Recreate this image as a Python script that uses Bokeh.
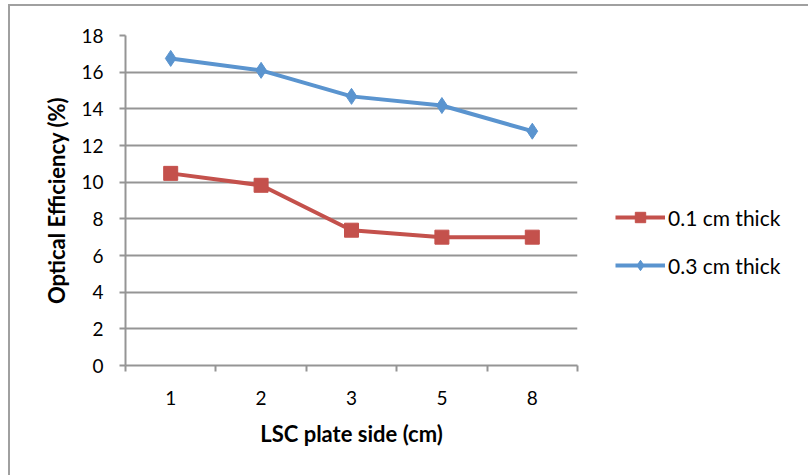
from bokeh.plotting import figure
from bokeh.models import Range1d, FixedTicker, Legend, LegendItem
from bokeh.embed import file_html
from bokeh.resources import INLINE

categories = ["1", "2", "3", "5", "8"]
thin_values = [10.48, 9.83, 7.38, 7.0, 7.0]
thick_values = [16.75, 16.1, 14.68, 14.18, 12.78]
y_ticks = [0, 2, 4, 6, 8, 10, 12, 14, 16, 18]

FONT = "Lato"
GRAY = "#959595"
RED = "#C4514C"
BLUE = "#5A94CF"

xs = [i + 1 for i in range(len(categories))]

frame_css = {
    "background-color": "white",
    "background-image": "linear-gradient(#a0a0a0, #a0a0a0), linear-gradient(#a0a0a0, #a0a0a0)",
    "background-size": "2px 100%, 100% 2px",
    "background-position": "8px 4px, 8px 4px",
    "background-repeat": "no-repeat",
}

p = figure(frame_width=452, frame_height=330, output_backend="svg", toolbar_location=None,
           x_range=Range1d(0.5, len(categories) + 0.5), y_range=Range1d(0, 18),
           min_border_left=125, min_border_right=231, min_border_top=35,
           min_border_bottom=110, styles=frame_css)
p.outline_line_color = None
p.background_fill_color = "white"
p.border_fill_color = None

# grid
p.xgrid.grid_line_color = None
p.ygrid.grid_line_color = GRAY
p.ygrid.grid_line_width = 2
p.ygrid.ticker = FixedTicker(ticks=y_ticks)

# y axis
p.yaxis.ticker = FixedTicker(ticks=y_ticks)
p.yaxis.axis_line_color = GRAY
p.yaxis.axis_line_width = 2
p.yaxis.major_tick_line_color = GRAY
p.yaxis.major_tick_line_width = 2
p.yaxis.major_tick_out = 6
p.yaxis.major_tick_in = 0
p.yaxis.minor_tick_line_color = None
p.yaxis.major_label_text_font = FONT
p.yaxis.major_label_text_font_size = "19px"
p.yaxis.major_label_text_color = "black"
p.yaxis.major_label_standoff = 16
p.yaxis.axis_label = "Optical Efficiency (%)"
p.yaxis.axis_label_text_font = FONT
p.yaxis.axis_label_text_font_size = "22px"
p.yaxis.axis_label_text_font_style = "bold"
p.yaxis.axis_label_text_color = "black"
p.yaxis.axis_label_standoff = 8

# x axis
p.xaxis.ticker = FixedTicker(ticks=xs, minor_ticks=[x - 0.5 for x in xs] + [xs[-1] + 0.5])
p.xaxis.major_label_overrides = {x: c for x, c in zip(xs, categories)}
p.xaxis.axis_line_color = GRAY
p.xaxis.axis_line_width = 2
p.xaxis.major_tick_line_color = None
p.xaxis.major_tick_out = 0
p.xaxis.major_tick_in = 0
p.xaxis.minor_tick_line_color = GRAY
p.xaxis.minor_tick_line_width = 2
p.xaxis.minor_tick_out = 6
p.xaxis.minor_tick_in = 0
p.xaxis.major_label_text_font = FONT
p.xaxis.major_label_text_font_size = "19px"
p.xaxis.major_label_text_color = "black"
p.xaxis.major_label_standoff = 19
p.xaxis.axis_label = "LSC plate side (cm)"
p.xaxis.axis_label_text_font = FONT
p.xaxis.axis_label_text_font_size = "22px"
p.xaxis.axis_label_text_font_style = "bold"
p.xaxis.axis_label_text_color = "black"
p.xaxis.axis_label_standoff = 12

# series
r_line1 = p.line(xs, thin_values, line_color=RED, line_width=4)
r_mark1 = p.scatter(xs, thin_values, marker="square", size=14, fill_color=RED, line_color=RED)
r_line2 = p.line(xs, thick_values, line_color=BLUE, line_width=4)
r_mark2 = p.scatter(xs, thick_values, marker="diamond", size=16, fill_color=BLUE, line_color=BLUE)

legend = Legend(items=[LegendItem(label="0.1 cm thick", renderers=[r_line1, r_mark1]),
                       LegendItem(label="0.3 cm thick", renderers=[r_line2, r_mark2])],
                location=(38, 87), orientation="vertical",
                glyph_width=50, glyph_height=26, label_height=26, label_standoff=3,
                spacing=22, padding=0, margin=0,
                border_line_color=None, background_fill_alpha=0,
                label_text_font=FONT, label_text_font_size="21px", label_text_color="black")
p.add_layout(legend, "right")

open("out.html", "w").write(file_html(p, INLINE))
